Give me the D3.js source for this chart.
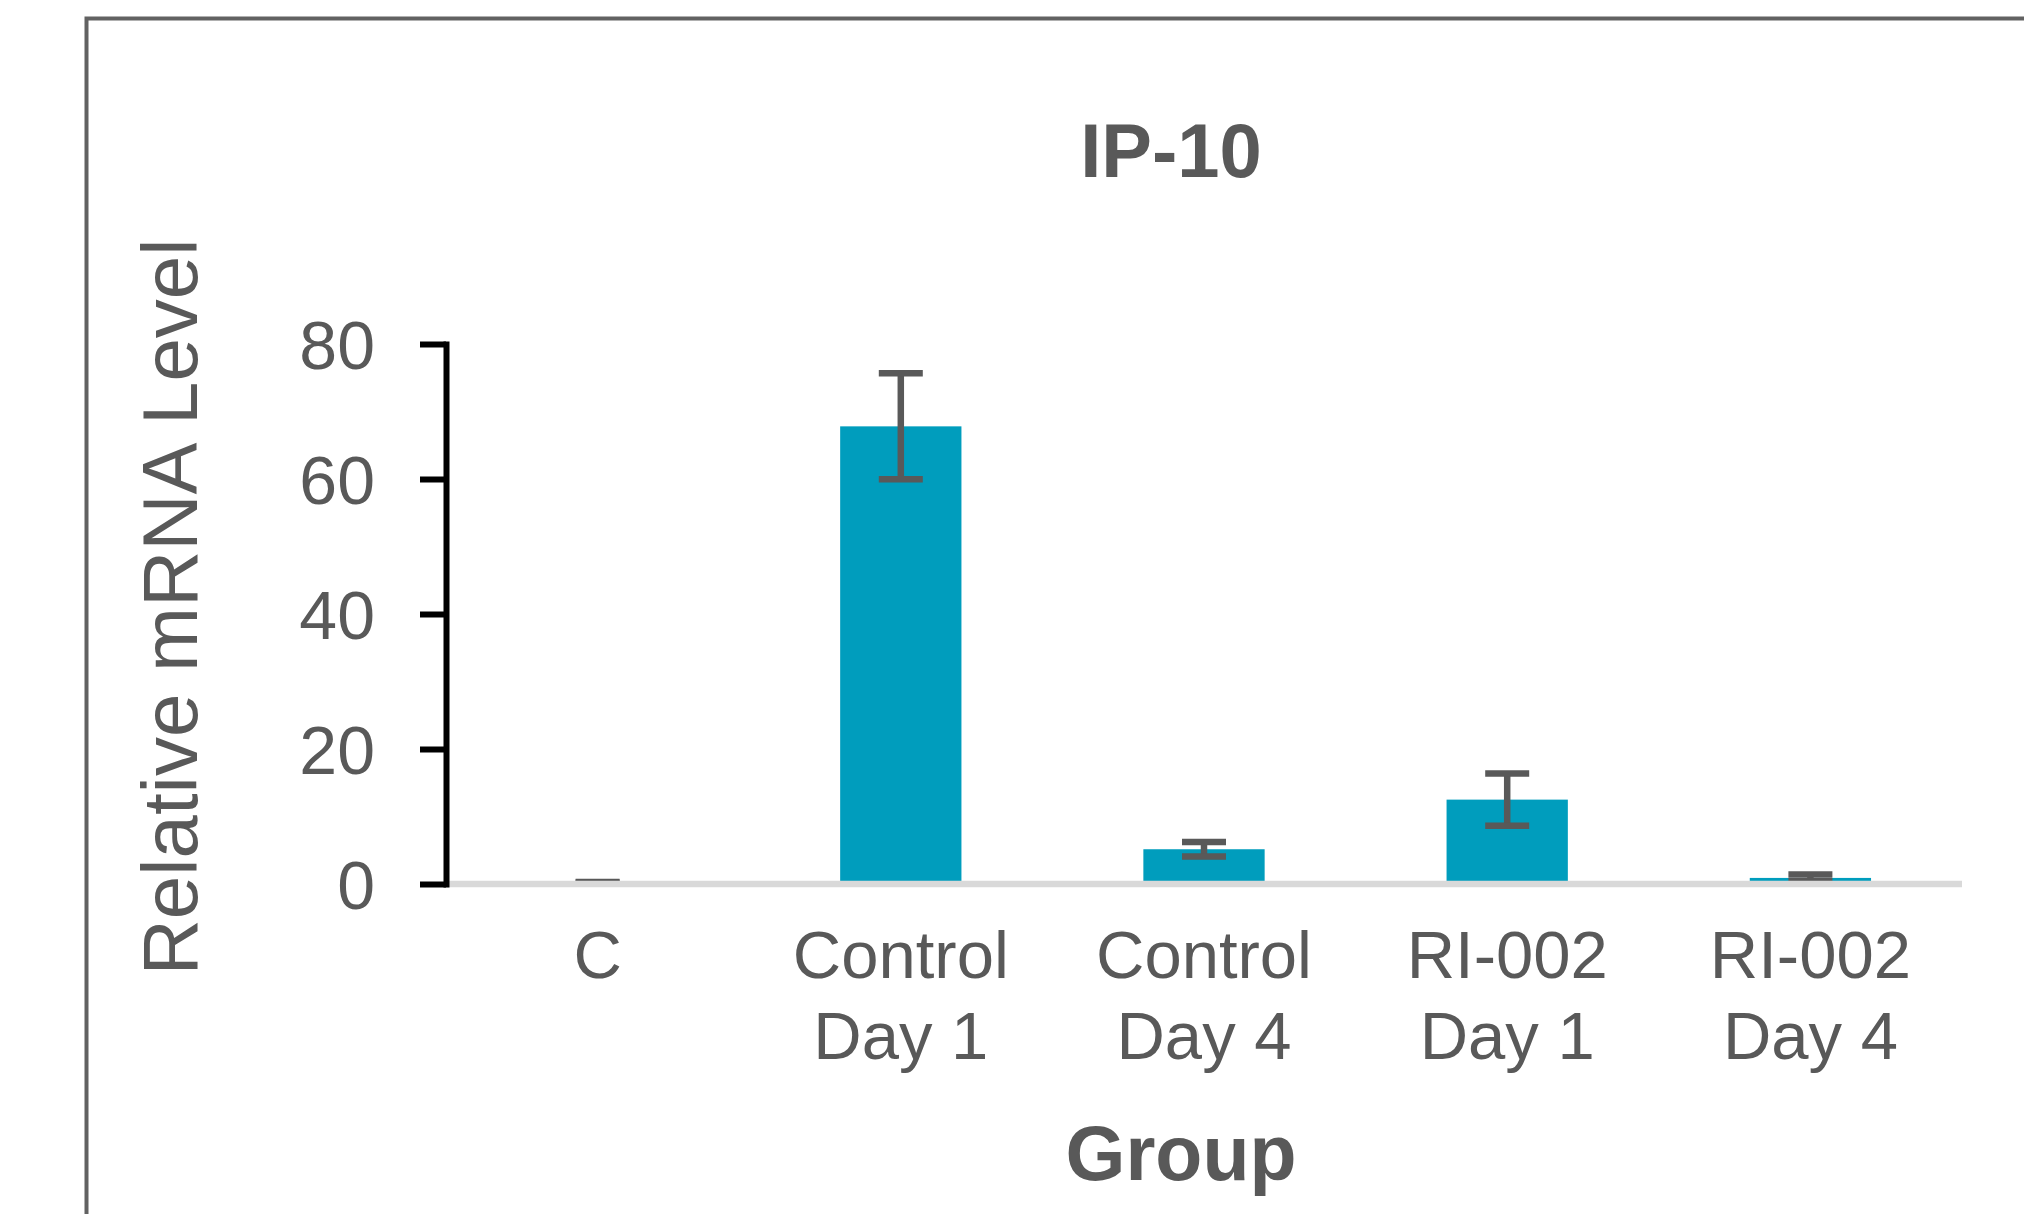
<!DOCTYPE html>
<html>
<head>
<meta charset="utf-8">
<script src="https://cdn.jsdelivr.net/npm/d3@7"></script>
<style>
  body { margin: 0; background: #fff; }
  svg text { font-family: "Liberation Sans", Arial, sans-serif; fill: #595959; }
</style>
</head>
<body>
<svg width="2024" height="1214"></svg>
<script>
// values
const categoryLines = [["C"], ["Control", "Day 1"], ["Control", "Day 4"], ["RI-002", "Day 1"], ["RI-002", "Day 4"]];
const categories = categoryLines.map(d => d.join(" "));
const means = [0.25, 67.8, 5.15, 12.5, 0.9];
const errors = [0.05, 7.85, 1.08, 3.87, 0.5];
const yTicks = [0, 20, 40, 60, 80];
const chartTitle = "IP-10";
const xTitle = "Group";
const yTitle = "Relative mRNA Level";

const data = categories.map((c, i) => ({cat: c, lines: categoryLines[i], mean: means[i], err: errors[i]}));

let svg = d3.select("svg"),
    plotLeft = 446, plotRight = 1962, plotTop = 344, plotBottom = 884;

// outer frame (runs off the right and bottom edges)
svg.append("rect")
    .attr("x", 86.5).attr("y", 18.5)
    .attr("width", 2100).attr("height", 1400)
    .attr("fill", "none")
    .attr("stroke", "#626262")
    .attr("stroke-width", 4);

let x = d3.scaleBand()
    .domain(categories)
    .range([plotLeft, plotRight])
    .paddingInner(0.6)
    .paddingOuter(0.3);

let y = d3.scaleLinear()
    .domain([0, 80])
    .range([plotBottom, plotTop]);

// bars
svg.append("g")
    .selectAll("rect")
    .data(data)
    .enter().append("rect")
    .attr("x", d => x(d.cat))
    .attr("y", d => y(d.mean))
    .attr("width", x.bandwidth())
    .attr("height", d => y(0) - y(d.mean))
    .attr("fill", "#009dbd");

// error bars
let capW = 44;
let eb = svg.append("g")
    .attr("stroke", "#595959")
    .attr("stroke-width", 6.5)
    .selectAll("g")
    .data(data)
    .enter().append("g")
    .attr("transform", d => "translate(" + (x(d.cat) + x.bandwidth() / 2) + ",0)");

eb.append("line")
    .attr("y1", d => y(d.mean + d.err))
    .attr("y2", d => y(d.mean - d.err));
eb.append("line")
    .attr("x1", -capW / 2).attr("x2", capW / 2)
    .attr("y1", d => y(d.mean + d.err))
    .attr("y2", d => y(d.mean + d.err));
eb.append("line")
    .attr("x1", -capW / 2).attr("x2", capW / 2)
    .attr("y1", d => y(d.mean - d.err))
    .attr("y2", d => y(d.mean - d.err));

// category axis line
svg.append("line")
    .attr("x1", plotLeft).attr("x2", plotRight)
    .attr("y1", y(0)).attr("y2", y(0))
    .attr("stroke", "#d9d9d9")
    .attr("stroke-width", 6.5);

// value axis
let yAxis = svg.append("g")
    .attr("transform", "translate(" + plotLeft + ",0)")
    .call(d3.axisLeft(y).tickValues(yTicks).tickSize(26).tickSizeOuter(0).tickPadding(45))
    .attr("font-family", null)
    .attr("font-size", null);

yAxis.select(".domain")
    .attr("stroke", "#000")
    .attr("stroke-width", 6)
    .attr("stroke-linecap", "square");
yAxis.selectAll(".tick line")
    .attr("stroke", "#000")
    .attr("stroke-width", 6);
yAxis.selectAll(".tick text")
    .attr("fill", "#595959")
    .attr("font-size", 68)
    .attr("dy", "0.36em");

// category labels
let labels = svg.append("g")
    .attr("font-size", 67)
    .attr("text-anchor", "middle")
    .selectAll("text")
    .data(data)
    .enter().append("text")
    .attr("x", d => x(d.cat) + x.bandwidth() / 2);

labels.selectAll("tspan")
    .data(d => d.lines)
    .enter().append("tspan")
    .attr("x", function () { return d3.select(this.parentNode).attr("x"); })
    .attr("y", (d, i) => 978 + i * 81)
    .text(d => d);

// titles
svg.append("text")
    .attr("x", 1171).attr("y", 177)
    .attr("text-anchor", "middle")
    .attr("font-size", 76)
    .attr("font-weight", "bold")
    .text(chartTitle);

svg.append("text")
    .attr("x", 1181).attr("y", 1180)
    .attr("text-anchor", "middle")
    .attr("font-size", 77)
    .attr("font-weight", "bold")
    .text(xTitle);

svg.append("text")
    .attr("transform", "translate(197,607) rotate(-90)")
    .attr("text-anchor", "middle")
    .attr("font-size", 78)
    .text(yTitle);
</script>
</body>
</html>
